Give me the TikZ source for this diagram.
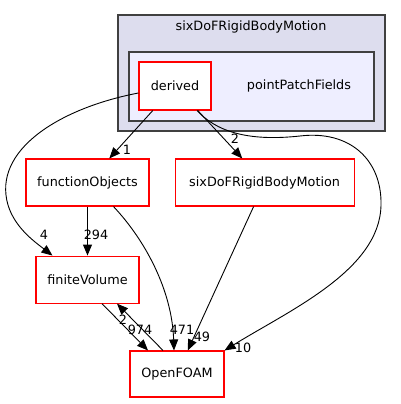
\documentclass[tikz,border=0pt]{standalone}
\usepackage{fontspec}
\setmainfont{DejaVu Sans}
\usepackage{xcolor}
\usepackage{tikz}
\usetikzlibrary{arrows.meta,positioning}
\definecolor{clusterouter}{RGB}{221,221,238}
\definecolor{clusterinner}{RGB}{238,238,255}
\definecolor{clusterline}{RGB}{64,64,64}

\begin{document}
\begin{tikzpicture}[
  x=1pt, y=-1pt,
  font=\fontsize{12.8}{14}\selectfont,
  dirbox/.style={rectangle, draw=red, line width=1.1pt, fill=white,
    inner sep=0pt, minimum height=47pt, align=center},
  cluster/.style={draw=clusterline, line width=1.1pt},
  dep/.style={-{Triangle[length=11pt,width=9pt]}, line width=0.9pt, black},
  count/.style={inner sep=0pt},
]
  \useasboundingbox (0,0) rectangle (401,404);

  % package clusters
  \draw[cluster, fill=clusterouter] (118,15) rectangle (385,131);
  \node (motionlabel) at (251,27) {sixDoFRigidBodyMotion};
  \draw[cluster, fill=clusterinner] (129,52) rectangle (374,121);
  \node (patchlabel) at (299,86) {pointPatchFields};

  % directories
  \node[dirbox, minimum width=72pt, minimum height=48pt] (derived) at (175,86) {derived};
  \node[dirbox, minimum width=123pt] (funcobj) at (87.5,182.5) {functionObjects};
  \node[dirbox, minimum width=179pt, right=25pt of funcobj] (motion) {sixDoFRigidBodyMotion};
  \node[dirbox, minimum width=103pt, below=49pt of funcobj] (finvol) {finiteVolume};
  \node[dirbox, minimum width=94pt, minimum height=46pt] (foam) at (177,374) {OpenFOAM};

  % dependencies
  \draw[dep] (derived) -- (funcobj);
  \draw[dep] (derived) -- (motion);
  \draw[dep] ([yshift=-7pt]derived.west) .. controls (60,108) and (-8,150) .. (8,205)
    .. controls (15,228) and (35,242) .. ([xshift=17pt]finvol.north west);
  \draw[dep] ([xshift=22pt]derived.south) .. controls (215,130) and (245,142) .. (300,136)
    .. controls (350,130) and (382,160) .. (381,205)
    .. controls (380,270) and (290,310) .. (foam.north east);
  \draw[dep] (funcobj) -- (finvol);
  \draw[dep] ([xshift=26pt]funcobj.south) .. controls (145,240) and (172,290) .. ([xshift=-3pt]foam.north);
  \draw[dep] (motion) -- (foam);
  \draw[dep] ([xshift=14.5pt]finvol.south) -- ([xshift=-29pt]foam.north);
  \draw[dep] ([xshift=-14pt]foam.north) -- ([xshift=29.5pt]finvol.south);

  % dependency counts
  \node[count] (c1)   at (127,150) {1};
  \node[count] (c2)   at (235,139) {2};
  \node[count] (c4)   at (44,235)  {4};
  \node[count] (c294) at (96,235)  {294};
  \node[count] (c2b)  at (123,320) {2};
  \node[count] (c974) at (140,330) {974};
  \node[count] (c471) at (182,330) {471};
  \node[count] (c49)  at (202,337) {49};
  \node[count] (c10)  at (243,348) {10};
\end{tikzpicture}
\end{document}
